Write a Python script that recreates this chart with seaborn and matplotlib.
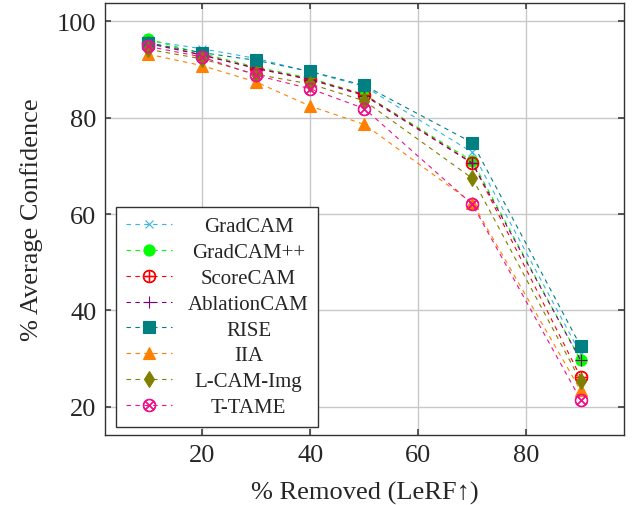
import matplotlib
matplotlib.use("Agg")
import matplotlib.pyplot as plt
import matplotlib.transforms as mtransforms
import seaborn as sns
import pandas as pd

sns.set_theme(style="whitegrid")
plt.rcParams['font.family'] = ['Liberation Serif', 'DejaVu Serif']
plt.rcParams['mathtext.fontset'] = 'cm'

# % of pixels removed
removed = [10, 20, 30, 40, 50, 70, 90]

# average confidence per method
gradcam = [96.0, 94.3, 92.3, 89.5, 86.5, 72.8, 31.0]
gradcampp = [96.3, 93.3, 90.5, 88.2, 84.8, 71.0, 29.7]
scorecam = [95.6, 93.0, 90.3, 88.0, 84.8, 70.6, 26.2]
ablationcam = [95.4, 93.0, 90.2, 87.9, 84.6, 70.5, 29.7]
rise = [95.5, 93.5, 91.9, 89.6, 86.7, 74.8, 32.6]
iia = [93.2, 90.8, 87.4, 82.4, 78.6, 62.3, 23.4]
lcam_img = [94.2, 92.2, 89.0, 87.0, 83.5, 67.4, 25.4]
ttame = [94.8, 92.6, 88.8, 86.0, 81.9, 62.0, 21.5]

methods = ["GradCAM", "GradCAM++", "ScoreCAM", "AblationCAM", "RISE", "IIA", "L-CAM-Img", "T-TAME"]
values = [gradcam, gradcampp, scorecam, ablationcam, rise, iia, lcam_img, ttame]

# colour, marker, marker size
styles = {
    "GradCAM": ("#33B5E5", "x", 6),
    "GradCAM++": ("#00FF00", "o", 8),
    "ScoreCAM": ("#FF0000", r"$\oplus$", 9),
    "AblationCAM": ("#800080", "+", 8),
    "RISE": ("#008080", "s", 8),
    "IIA": ("#FF8000", "^", 8),
    "L-CAM-Img": ("#808000", "d", 8),
    "T-TAME": ("#F0108C", r"$\otimes$", 9),
}

fig = plt.figure(figsize=(6.32, 5.06), dpi=100)
ax = fig.add_axes([0.166, 0.138, 0.821, 0.854])

for name, vals in zip(methods, values):
    color, marker, ms = styles[name]
    df = pd.DataFrame({"x": removed, "y": vals})
    sns.lineplot(data=df, x="x", y="y", ax=ax, color=color, marker=marker,
                 markersize=ms, markeredgecolor=color, markerfacecolor=color,
                 markeredgewidth=0.8, linestyle=(0, (4, 4)), linewidth=0.8,
                 label=name)

ax.set_xlim(2, 98)
ax.set_ylim(14.1, 103.8)
ax.set_xticks([20, 40, 60, 80])
ax.set_yticks([20, 40, 60, 80, 100])
ax.set_xlabel("% Removed (LeRF\u2191)", fontsize=19, labelpad=11)
ax.set_ylabel("% Average Confidence", fontsize=19, labelpad=10)
ax.tick_params(labelsize=19, direction="in", length=4, color="#444444", pad=6,
               bottom=True, left=True, top=True, right=True)
ax.grid(True, color="#C8C8C8", linewidth=1)
ax.set_facecolor("white")
for s in ax.spines.values():
    s.set_color("#333333")
    s.set_linewidth(1)

leg = ax.legend(loc="lower left", bbox_to_anchor=(0.022, 0.02), borderaxespad=0,
                fontsize=15, frameon=True, fancybox=False, edgecolor="#333333",
                framealpha=1, handlelength=2.2, labelspacing=0.3, borderpad=0.45,
                handletextpad=0.8)
leg.get_frame().set_linewidth(1)

# centre the legend labels in their column like pgfplots does
renderer = fig.canvas.get_renderer()
widths = [t.get_window_extent(renderer).width for t in leg.get_texts()]
maxw = max(widths)
for t, w in zip(leg.get_texts(), widths):
    t.set_transform(t.get_transform() + mtransforms.Affine2D().translate((maxw - w) / 2, 0))

fig.savefig("out.png", dpi=100)
